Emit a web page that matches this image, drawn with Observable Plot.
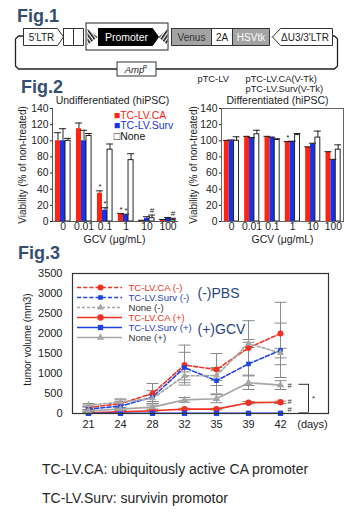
<!DOCTYPE html>
<html><head><meta charset="utf-8">
<script src="https://cdn.jsdelivr.net/npm/d3@7"></script>
<script src="https://cdn.jsdelivr.net/npm/@observablehq/plot@0.6"></script>
<style>
body{margin:0;background:#fff;}
#root{position:relative;width:360px;height:513px;overflow:hidden;font-family:"Liberation Sans",Arial,sans-serif;background:#fff;}
#root > svg, #root > div{position:absolute;}
.fig{font-weight:bold;font-size:18px;line-height:18px;color:#34506e;}
.note{left:42px;font-size:14px;line-height:16px;color:#262626;white-space:nowrap;}
</style></head><body><div id="root"></div>
<script>
const FONT = '"Liberation Sans", Arial, sans-serif';

// ---------------- Fig.1 : vector construct ----------------
const constructNames = ["5'LTR", "", "", "Promoter", "Venus", "2A", "HSVtk", "ΔU3/3'LTR"];
const constructStart = [23, 63, 73, 98, 171, 211, 232, 272];
const constructEnd   = [63, 73, 83, 158, 211, 232, 269, 332];
const constructShape = ["arrowR", "box", "box", "arrowR", "box", "box", "box", "arrowL"];
const vectorNames = ["pTC-LV", "pTC-LV.CA(V-Tk)", "pTC-LV.Surv(V-Tk)"];

// ---------------- Fig.2 : viability ----------------
const gcvLevels = ["0", "0.01", "0.1", "1", "10", "100"];
const vectors = ["TC-LV.CA", "TC-LV.Surv", "None"];
const undiffCA      = [100, 115, 35, 9, 1, 2];
const undiffCAErr   = [10, 7, 3, 1, 0.5, 0.5];
const undiffSurv    = [100, 100, 14, 8, 4, 4];
const undiffSurvErr = [15, 13, 3, 1, 2, 1];
const undiffNone    = [100, 106, 89, 76, 4, 2];
const undiffNoneErr = [3, 3, 7, 8, 4, 2];
const undiffSig = [["0.1", "TC-LV.CA", "*"], ["0.1", "TC-LV.Surv", "*"], ["1", "TC-LV.CA", "*"], ["1", "TC-LV.Surv", "*"], ["10", "None", "#"], ["100", "None", "#"]];
const diffCA      = [100, 105, 105, 98, 92, 86];
const diffCAErr   = [0.5, 0.5, 0.5, 1, 0.5, 0.5];
const diffSurv    = [100, 103, 104, 99, 96, 76];
const diffSurvErr = [1, 1, 0.5, 0.5, 1, 1];
const diffNone    = [100, 108, 101, 107, 104, 89];
const diffNoneErr = [5, 5, 1.5, 2, 8, 6];
const diffSig = [["1", "TC-LV.CA", "*"]];

// ---------------- Fig.3 : tumor volume ----------------
const days = ["21", "24", "28", "32", "35", "39", "42"];
const seriesNames = ["TC-LV.CA (-)", "TC-LV.Surv (-)", "None (-)", "TC-LV.CA (+)", "TC-LV.Surv (+)", "None (+)"];
const caMinus       = [150, 245, 500, 1210, 1100, 1640, 2000];
const caMinusErr    = [60, 120, 250, 500, 400, 680, 780];
const survMinus     = [110, 185, 410, 1150, 820, 1240, 1580];
const survMinusErr  = [50, 110, 160, 380, 330, 540, 680];
const noneMinus     = [210, 280, 380, 940, 950, 1750, 1510];
const noneMinusErr  = [40, 60, 80, 100, 120, 100, 120];
const caPlus        = [20, 40, 70, 110, 110, 270, 280];
const caPlusErr     = [10, 10, 15, 20, 20, 30, 30];
const survPlus      = [5, 5, 5, 5, 5, 5, 5];
const survPlusErr   = [0, 0, 0, 0, 0, 0, 0];
const nonePlus      = [70, 110, 160, 340, 370, 770, 710];
const nonePlusErr   = [30, 40, 50, 60, 100, 170, 110];
const day42Sig = [["#", 690], ["#", 300], ["#", 90]];

const root = document.getElementById("root");
function place(node, left, top) { node.style.left = left + "px"; node.style.top = top + "px"; root.appendChild(node); return node; }
function label(text, cls, left, top) { const d = document.createElement("div"); d.className = cls; d.textContent = text; return place(d, left, top); }

// ================= Fig.1 =================
{
  const T = 28, B = 45, M = 36.5;
  const pts = (i) => {
    const s = constructStart[i], e = constructEnd[i];
    let p;
    if (constructShape[i] === "arrowR") p = [[s, T], [e - 6, T], [e, M], [e - 6, B], [s, B]];
    else if (constructShape[i] === "arrowL") p = [[s, M], [s + 8, T], [e, T], [e, B], [s + 8, B]];
    else p = [[s, T], [e, T], [e, B], [s, B]];
    return [...p, p[0]];
  };
  const fills = {"Promoter": "#000", "Venus": "#a3a3a3", "HSVtk": "#a3a3a3"};
  const inks = {"Promoter": "#fff", "Venus": "#333", "HSVtk": "#fff"};
  const backbone = [[23, 35.5], [18, 35.5], [15, 38.5], [15, 65.5], [18, 68.5], [334, 68.5], [337, 65.5], [337, 38.5], [334, 35.5], [332, 35.5]];
  const xy = {x: d => d[0], y: d => d[1]};
  const marks = [
    Plot.line(backbone, {...xy, stroke: "#222", strokeWidth: 1.3}),
    Plot.rect([0], {x1: 86, x2: 168, y1: 23, y2: 50, fill: "white", stroke: "#222", strokeWidth: 1}),
    Plot.line([[87, 28.5], [97, 36.5], [87, 44.5], [87, 28.5]], {...xy, fill: "url(#hatchA)", stroke: "none"}),
    Plot.line([[167, 28.5], [158, 36.5], [167, 44.5], [167, 28.5]], {...xy, fill: "url(#hatchB)", stroke: "none"}),
    ...constructNames.map((n, i) => Plot.line(pts(i), {...xy, fill: fills[n] || "white", stroke: n === "Promoter" ? "#000" : "#333", strokeWidth: 1})),
    Plot.text(constructNames.map((n, i) => ({n, x: (constructStart[i] + constructEnd[i] - (constructShape[i] === "arrowR" ? 4 : constructShape[i] === "arrowL" ? -5 : 0)) / 2})).filter(d => d.n),
      {x: "x", y: () => 37, text: "n", fill: d => inks[d.n] || "#222", fontSize: d => d.n === "Promoter" ? 10.5 : 10}),
    Plot.rect([0], {x1: 117, x2: 156, y1: 62, y2: 76, fill: "white", stroke: "#333", strokeWidth: 1}),
    Plot.text(["Amp"], {text: d => d, x: 134, y: 69.5, fontStyle: "italic", fontSize: 9.5, fill: "#222"}),
    Plot.text(["R"], {text: d => d, x: 144.5, y: 66.5, fontStyle: "italic", fontSize: 6, fill: "#222"}),
    Plot.text(vectorNames, {text: d => d, x: (d, i) => (i === 0 ? 197 : 245), y: (d, i) => (i === 2 ? 89 : 78.8), textAnchor: "start", fontSize: 9.3, fill: "#222"})
  ];
  const svg = Plot.plot({
    width: 360, height: 100, margin: 0,
    x: {domain: [0, 360], range: [0, 360], axis: null},
    y: {domain: [0, 100], range: [0, 100], axis: null},
    color: {type: "identity"},
    style: {background: "transparent", fontFamily: FONT},
    marks
  });
  const defs = document.createElementNS("http://www.w3.org/2000/svg", "defs");
  defs.innerHTML = '<pattern id="hatchA" width="3" height="3" patternUnits="userSpaceOnUse" patternTransform="rotate(-35)"><rect width="3" height="3" fill="#fff"/><rect width="1.6" height="3" fill="#111"/></pattern>' +
                   '<pattern id="hatchB" width="3" height="3" patternUnits="userSpaceOnUse" patternTransform="rotate(35)"><rect width="3" height="3" fill="#fff"/><rect width="1.6" height="3" fill="#111"/></pattern>';
  svg.insertBefore(defs, svg.firstChild);
  place(svg, 0, 0);
}

// ================= Fig.2 =================
const RED2 = "#ff2410", BLUE2 = "#1733e6";
function viabilityPanel(o) {
  const series = [[o.ca, o.caErr], [o.surv, o.survErr], [o.none, o.noneErr]];
  const rows = gcvLevels.flatMap((g, gi) => series.map(([v, e], si) => ({
    g, vector: vectors[si], si, value: v[gi], err: e[gi],
    x1: gi - 0.36 + si * 0.24, x2: gi - 0.36 + (si + 1) * 0.24, xc: gi - 0.24 + si * 0.24
  })));
  const sigRows = o.sig.map(([g, vec, sym]) => { const r = rows.find(d => d.g === g && d.vector === vec); return {x: r.xc, y: r.value + r.err + (sym === "#" ? 6 : 5), sym}; });
  const marks = [
    Plot.rect(rows, {x1: "x1", x2: "x2", y1: 0, y2: "value", fill: "vector"}),
    Plot.rect(rows, {filter: d => d.si === 2, x1: "x1", x2: "x2", y1: 0, y2: "value", fill: "none", stroke: "#111", strokeWidth: 0.9}),
    Plot.ruleX(rows, {x: "xc", y1: "value", y2: d => d.value + d.err, stroke: "#111", strokeWidth: 0.9}),
    Plot.ruleY(rows, {y: d => d.value + d.err, x1: d => d.xc - 0.17, x2: d => d.xc + 0.17, stroke: "#111", strokeWidth: 0.9}),
    Plot.text(sigRows, {x: "x", y: "y", text: "sym", fontSize: 8, fill: "#222"}),
    Plot.text([o.title], {text: d => d, frameAnchor: "top", textAnchor: "middle", lineAnchor: "middle", dy: -7.5, dx: o.titleDx, fontSize: 10.5, fill: "#222"}),
    Plot.text(["Viability (% of non-treated)"], {text: d => d, frameAnchor: "left", textAnchor: "middle", lineAnchor: "middle", rotate: -90, dx: o.labelDx, fontSize: 10, fill: "#222"}),
    Plot.text(["GCV (μg/mL)"], {text: d => d, frameAnchor: "bottom", textAnchor: "middle", lineAnchor: "middle", dy: 18, dx: o.gcvDx, fontSize: 10.5, fill: "#222"})
  ];
  if (o.frame) marks.push(Plot.frame({stroke: "#666", strokeWidth: 1}));
  else marks.push(Plot.ruleX([-0.5], {stroke: "#555"}), Plot.ruleY([0], {stroke: "#555"}));
  if (o.legend) {
    const glyph = ["■", "■", "□"], col = [RED2, BLUE2, "#111"];
    vectors.forEach((v, i) => marks.push(Plot.text([glyph[i] + v], {text: d => d, x: 2.42, y: 131.5 - i * 13.2, textAnchor: "start", fontSize: 10.5, fill: col[i]})));
  }
  return Plot.plot({
    width: 180, height: 160, marginTop: 23, marginBottom: 24, marginLeft: o.marginLeft, marginRight: o.marginRight,
    x: {domain: [-0.5, 5.5], ticks: [0, 1, 2, 3, 4, 5], tickFormat: i => gcvLevels[i], tickSize: 0, tickPadding: 1, label: null},
    y: {domain: [0, 140], ticks: d3.range(0, 141, 20), tickSize: 2, tickPadding: 2, label: null},
    color: {domain: vectors, range: [RED2, BLUE2, "#fff"]},
    style: {background: "transparent", fontFamily: FONT, fontSize: "10.3px", color: "#222"},
    marks
  });
}
place(viabilityPanel({title: "Undifferentiated (hiPSC)", ca: undiffCA, caErr: undiffCAErr, surv: undiffSurv, survErr: undiffSurvErr, none: undiffNone, noneErr: undiffNoneErr, sig: undiffSig, marginLeft: 52, marginRight: 2, frame: false, legend: true, titleDx: -3, labelDx: -30, gcvDx: -1}), 0, 85);
place(viabilityPanel({title: "Differentiated (hiPSC)", ca: diffCA, caErr: diffCAErr, surv: diffSurv, survErr: diffSurvErr, none: diffNone, noneErr: diffNoneErr, sig: diffSig, marginLeft: 41, marginRight: 17, frame: true, legend: false, titleDx: -5, labelDx: -28, gcvDx: 0}), 180, 85);

// ================= Fig.3 =================
const RED3 = "#ee3324", BLUE3 = "#1f44e4", GREY3 = "#a6a6a6";
const seriesValues = [caMinus, survMinus, noneMinus, caPlus, survPlus, nonePlus];
const seriesErrs = [caMinusErr, survMinusErr, noneMinusErr, caPlusErr, survPlusErr, nonePlusErr];
const seriesColor = [RED3, BLUE3, GREY3, RED3, BLUE3, GREY3];
const seriesText = [RED3, "#2a3fc4", "#333", RED3, "#2a3fc4", "#333"];
const seriesDash = ["4,2.2", "4,2.2", "3,2", null, null, null];
const seriesSymbol = ["circle", "square", "triangle", "circle", "square", "triangle"];
const seriesR = [3, 2.6, 2.6, 3.2, 3, 2.8];
const tumorRows = seriesNames.flatMap((s, si) => days.map((d, di) => ({series: s, si, day: d, value: seriesValues[si][di], err: seriesErrs[si][di]})));
// horizontal cap glyphs (error-bar caps and significance bracket ends)
const capSymbol = {draw(ctx, size) { const r = Math.sqrt(size / Math.PI); ctx.moveTo(-r, 0); ctx.lineTo(r, 0); }};
const bracketSymbol = {draw(ctx) { ctx.moveTo(18, 0); ctx.lineTo(28, 0); }};
{
  const withErr = tumorRows.filter(d => d.err > 0);
  const marks = [
    Plot.ruleX(withErr, {x: "day", y1: d => Math.max(0, d.value - d.err), y2: d => d.value + d.err, stroke: "#8a8a8a", strokeWidth: 1}),
    Plot.dot(withErr, {x: "day", y: d => d.value + d.err, symbol: capSymbol, r: 6, fill: "none", stroke: "#8a8a8a", strokeWidth: 1}),
    Plot.dot(withErr.filter(d => d.value - d.err > 0), {x: "day", y: d => d.value - d.err, symbol: capSymbol, r: 6, fill: "none", stroke: "#8a8a8a", strokeWidth: 1})
  ];
  seriesNames.forEach((s, si) => {
    const data = tumorRows.filter(d => d.si === si);
    marks.push(Plot.line(data, {x: "day", y: "value", stroke: "series", strokeWidth: 1.6, ...(seriesDash[si] ? {strokeDasharray: seriesDash[si]} : {})}));
  });
  seriesNames.forEach((s, si) => {
    const data = tumorRows.filter(d => d.si === si);
    marks.push(Plot.dot(data, {x: "day", y: "value", fill: "series", symbol: seriesSymbol[si], r: seriesR[si], stroke: "none"}));
  });
  marks.push(
    Plot.text(day42Sig, {x: () => "42", y: d => d[1], text: d => d[0], dx: 9, fontSize: 7.5, fill: "#333"}),
    Plot.dot([730, 15], {x: () => "42", y: d => d, symbol: bracketSymbol, r: 5, fill: "none", stroke: "#333", strokeWidth: 1}),
    Plot.ruleX(["42"], {x: d => d, y1: 15, y2: 730, dx: 28, stroke: "#333", strokeWidth: 1}),
    Plot.text(["*"], {text: d => d, x: () => "42", y: 370, dx: 33, fontSize: 8, fill: "#333"}),
    Plot.text(["tumor volume (mm3)"], {text: d => d, frameAnchor: "left", textAnchor: "middle", lineAnchor: "middle", rotate: -90, dx: -45, dy: -4, fontSize: 10, fill: "#222"}),
    Plot.frame({stroke: "#333", strokeWidth: 1.2})
  );
  place(Plot.plot({
    width: 360, height: 176, marginTop: 13, marginBottom: 23, marginLeft: 72, marginRight: 32,
    x: {type: "point", domain: [...days, "(days)"], padding: 0.5, tickSize: 0, tickPadding: 7, label: null},
    y: {domain: [0, 3500], ticks: d3.range(0, 3501, 500), tickFormat: d => String(d), tickSize: 0, tickPadding: 10, label: null},
    color: {domain: seriesNames, range: seriesColor},
    style: {background: "transparent", fontFamily: FONT, fontSize: "11px", color: "#222"},
    marks
  }), 0, 260);

  // legend overlay inside the frame
  const leg = seriesNames.map((s, si) => ({s, si}));
  const lmarks = [];
  leg.forEach(d => {
    lmarks.push(Plot.ruleY([d], {y: "s", x1: 5, x2: 50, stroke: seriesColor[d.si], strokeWidth: 1.6, ...(seriesDash[d.si] ? {strokeDasharray: seriesDash[d.si]} : {})}));
    lmarks.push(Plot.dot([d], {y: "s", x: 28, symbol: seriesSymbol[d.si], r: seriesR[d.si], fill: seriesColor[d.si], stroke: "none"}));
  });
  lmarks.push(
    Plot.text(leg, {y: "s", x: 56, text: "s", fill: d => seriesText[d.si], textAnchor: "start", fontSize: 9.6}),
    Plot.text(["(-)PBS"], {text: d => d, frameAnchor: "top-left", textAnchor: "start", lineAnchor: "middle", dx: 125, dy: 20, fontSize: 14, fill: "#27457f"}),
    Plot.text(["(+)GCV"], {text: d => d, frameAnchor: "top-left", textAnchor: "start", lineAnchor: "middle", dx: 125, dy: 56, fontSize: 14, fill: "#27457f"})
  );
  place(Plot.plot({
    width: 256, height: 139, margin: 0,
    x: {domain: [0, 256], range: [0, 256], axis: null},
    y: {type: "point", domain: seriesNames, range: [8, 69], axis: null},
    color: {type: "identity"},
    style: {background: "transparent", fontFamily: FONT},
    marks: lmarks
  }), 72, 273);
}

// ================= HTML labels =================
label("Fig.1", "fig", 17, 6.5);
label("Fig.2", "fig", 21, 77.5);
label("Fig.3", "fig", 18, 244.3);
label("TC-LV.CA: ubiquitously active CA promoter", "note", 42, 461);
label("TC-LV.Surv: survivin promotor", "note", 42, 490);
</script></body></html>
